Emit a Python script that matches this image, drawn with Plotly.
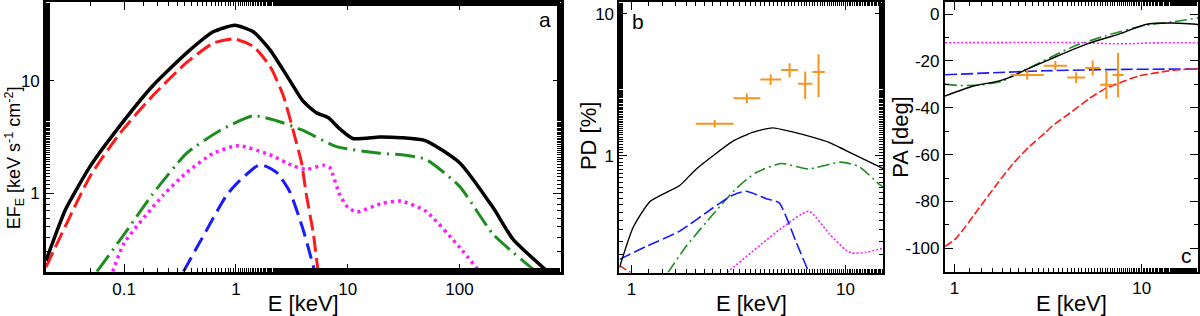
import plotly.graph_objects as go
import math

# ---------------- Panel a : spectra ----------------
a_tot_E = [0.02, 0.03, 0.05, 0.092, 0.183, 0.363, 0.628, 0.98, 1.43, 2.01, 2.84, 3.99, 5.25, 6.67, 8.5, 11.1, 19.3, 30, 50, 100, 200, 300, 614]
a_tot_F = [0.25, 0.72, 1.75, 4.0, 9.2, 17.8, 27.4, 31.3, 27.4, 19.0, 11.2, 6.6, 5.2, 4.72, 3.74, 3.07, 3.17, 3.12, 2.93, 1.87, 0.74, 0.39, 0.2]

a_disk_E = [0.02, 0.05, 0.092, 0.183, 0.363, 0.628, 0.96, 1.43, 2.01, 2.64, 3.25, 3.86, 4.27, 4.9, 5.43]
a_disk_F = [0.22, 1.43, 3.43, 7.5, 14.6, 21.7, 23.7, 20.3, 13.6, 7.5, 3.62, 1.87, 0.96, 0.45, 0.2]

a_cor_E = [0.057, 0.1, 0.177, 0.363, 0.72, 1.43, 2.31, 3.99, 7.93, 19.3, 30, 50, 100, 200, 484]
a_cor_F = [0.2, 0.43, 0.96, 2.27, 3.62, 4.89, 4.42, 3.62, 2.6, 2.27, 2.2, 2.0, 1.15, 0.43, 0.2]

a_refl_E = [0.079, 0.1, 0.224, 0.363, 0.628, 1.05, 2.01, 3.25, 4.27, 6.03, 6.9, 8.5, 10, 12, 20, 30, 50, 100, 151]
a_refl_F = [0.2, 0.36, 0.96, 1.53, 2.27, 2.65, 2.2, 1.75, 1.63, 1.77, 1.69, 0.96, 0.75, 0.68, 0.81, 0.85, 0.69, 0.33, 0.2]

a_bb_E = [0.339, 0.5, 0.826, 1.086, 1.64, 2.31, 3.03, 4.0, 5.07]
a_bb_F = [0.2, 0.4, 0.96, 1.3, 1.8, 1.53, 1.03, 0.47, 0.2]

# ---------------- Panel b : polarization degree ----------------
b_tot_E = [0.88, 1.02, 1.22, 1.68, 2.0, 2.97, 3.68, 4.56, 5.65, 7.0, 8.38, 10, 15]
b_tot_PD = [0.163, 0.313, 0.474, 0.616, 0.8, 1.26, 1.46, 1.57, 1.47, 1.35, 1.24, 1.09, 0.81]

b_cor_E = [1.48, 1.8, 2.4, 3.08, 3.81, 5.0, 6.7, 9.5, 11.5, 14.3, 15]
b_cor_PD = [0.15, 0.229, 0.385, 0.585, 0.758, 0.88, 0.807, 0.90, 0.84, 0.633, 0.6]

b_bb_E = [0.88, 1.17, 1.68, 2.4, 2.97, 3.43, 4.24, 4.9, 5.45, 5.83, 6.75]
b_bb_PD = [0.186, 0.229, 0.294, 0.428, 0.527, 0.561, 0.5, 0.465, 0.33, 0.254, 0.15]

b_refl_E = [2.8, 4.9, 6.74, 8.38, 10, 10.7, 12.4, 15]
b_refl_PD = [0.15, 0.3, 0.406, 0.282, 0.217, 0.206, 0.208, 0.223]

b_disk_E = [0.88, 0.99]
b_disk_PD = [0.168, 0.15]

# ---------------- Panel c : polarization angle ----------------
c_tot_E = [0.89, 1.25, 1.74, 1.96, 2.41, 3.48, 5.24, 7.57, 10.5, 14.6, 20]
c_tot_PA = [-35, -30.8, -28.5, -27.1, -23.7, -18.2, -12.4, -8.5, -4.4, -3.8, -4.4]

c_cor_E = [0.89, 1.06, 1.4, 1.81, 2.31, 4.27, 6.43, 10.5, 14.6, 20]
c_cor_PA = [-29.9, -30.5, -30.2, -28.5, -24.4, -14.0, -9.2, -4.7, -3.3, -1.6]

c_bb_E = [0.89, 3.0, 8.0, 20]
c_bb_PA = [-25.9, -24.2, -23.6, -23.4]

c_refl_E = [0.89, 5.0, 6.5, 9.0, 11.0, 20]
c_refl_PA = [-12.2, -12.2, -12.6, -12.6, -12.3, -12.2]

c_disk_E = [0.892, 1.02, 1.36, 1.67, 2.04, 2.51, 3.08, 3.34, 4.27, 5.24, 6.43, 7.88, 9.67, 14.6, 20]
c_disk_PA = [-99.2, -95.8, -82.7, -73.1, -64.2, -56.6, -50.4, -47.7, -41.5, -36.1, -31.7, -28.9, -26.4, -24.0, -23.3]

# ---------------- Observed data ----------------
obs_E = [2.45, 3.46, 4.47, 5.48, 6.48, 7.48]
obs_Elo = [2, 3, 4, 5, 6, 7]
obs_Ehi = [3, 4, 5, 6, 7, 8]
obs_PD = [1.68, 2.54, 3.44, 4.02, 3.21, 3.88]
obs_PD_err = [0.1, 0.2, 0.3, 0.45, 0.7, 1.3]
obs_PA = [-26.0, -22.0, -27.1, -23.0, -30.2, -26.0]
obs_PA_err = [2, 2, 2.3, 3.2, 6, 9.5]

# tick labels
a_xticks = [0.1, 1, 10, 100]
a_xtext = ["0.1", "1", "10", "100"]
a_yticks = [1, 10]
a_ytext = ["1", "10"]
b_xticks = [1, 10]
b_xtext = ["1", "10"]
b_yticks = [1, 10]
b_ytext = ["1", "10"]
c_xticks = [1, 10]
c_xtext = ["1", "10"]
c_yticks = [0, -20, -40, -60, -80, -100]
c_ytext = ["0", "-20", "-40", "-60", "-80", "-100"]

RED = "#FF1A1A"
GREEN = "#1E8C1E"
BLUE = "#1A1AFF"
MAG = "#FF1AFF"
ORANGE = "#F7941D"

fig = go.Figure()

def add(x, y, color, width, dash, xa, ya):
    fig.add_trace(go.Scatter(x=x, y=y, mode="lines", xaxis=xa, yaxis=ya,
                             line=dict(color=color, width=width, dash=dash, shape="spline", smoothing=0.55),
                             showlegend=False, hoverinfo="skip"))

# panel a
add(a_cor_E, a_cor_F, GREEN, 3, "20px,6px,2px,6px", "x", "y")
add(a_refl_E, a_refl_F, MAG, 3.5, "3px,4px", "x", "y")
add(a_bb_E, a_bb_F, BLUE, 3, "16px,7px", "x", "y")
add(a_disk_E, a_disk_F, RED, 3, "16px,6px", "x", "y")
add(a_tot_E, a_tot_F, "black", 3.5, "solid", "x", "y")

# panel b
add(b_cor_E, b_cor_PD, GREEN, 1.6, "12px,4px,2px,4px", "x2", "y2")
add(b_refl_E, b_refl_PD, MAG, 1.6, "2px,2px", "x2", "y2")
add(b_bb_E, b_bb_PD, BLUE, 1.6, "12px,4px", "x2", "y2")
add(b_disk_E, b_disk_PD, RED, 1.6, "8px,3px", "x2", "y2")
add(b_tot_E, b_tot_PD, "black", 1.4, "solid", "x2", "y2")

# panel c
add(c_cor_E, c_cor_PA, GREEN, 1.6, "12px,4px,2px,4px", "x3", "y3")
add(c_refl_E, c_refl_PA, MAG, 1.6, "2px,2px", "x3", "y3")
add(c_bb_E, c_bb_PA, BLUE, 1.6, "12px,4px", "x3", "y3")
add(c_disk_E, c_disk_PA, RED, 1.6, "8px,3px", "x3", "y3")
add(c_tot_E, c_tot_PA, "black", 1.4, "solid", "x3", "y3")

ex_plus = [h - c for h, c in zip(obs_Ehi, obs_E)]
ex_minus = [c - l for c, l in zip(obs_E, obs_Elo)]

for yv, ye, xa, ya in [(obs_PD, obs_PD_err, "x2", "y2"), (obs_PA, obs_PA_err, "x3", "y3")]:
    fig.add_trace(go.Scatter(x=obs_E, y=yv, mode="markers", xaxis=xa, yaxis=ya,
                             marker=dict(size=1, color=ORANGE),
                             error_x=dict(type="data", symmetric=False, array=ex_plus, arrayminus=ex_minus,
                                          color=ORANGE, thickness=2, width=0),
                             error_y=dict(type="data", array=ye, color=ORANGE, thickness=2, width=0),
                             showlegend=False, hoverinfo="skip"))

FONT = "Arial, Liberation Sans, sans-serif"
W, H = 1200, 316
ytop = 1 - 1.5 / H
ybot = 1 - 279.5 / H
lg = math.log10

def ax(domain, rng, typ, tickvals, ticktext, title, anchor, minor_dtick=None, lw=2):
    d = dict(domain=domain, range=rng, type=typ, showgrid=False, zeroline=False,
             showline=True, linecolor="black", linewidth=lw, mirror="ticks",
             ticks="inside", ticklen=8, tickwidth=1.2, tickcolor="black",
             tickvals=tickvals, ticktext=ticktext,
             tickfont=dict(family=FONT, size=17, color="black"),
             anchor=anchor)
    if title:
        d["title"] = dict(text=title, font=dict(family=FONT, size=22, color="black"), standoff=2)
    m = dict(ticks="inside", ticklen=4, tickwidth=1, tickcolor="black", showgrid=False)
    if minor_dtick is not None:
        m["dtick"] = minor_dtick
    d["minor"] = m
    return d

fig.update_layout(
    width=W, height=H, margin=dict(l=0, r=0, t=0, b=0),
    paper_bgcolor="white", plot_bgcolor="white",
    xaxis=ax([46 / W, 561 / W], [lg(0.02), lg(800)], "log", a_xticks, a_xtext, "E [keV]", "y", lw=2.5),
    yaxis=ax([ybot, ytop], [lg(0.2), lg(50)], "log", a_yticks, a_ytext, None, "x", lw=2.5),
    xaxis2=ax([620 / W, 884 / W], [lg(0.88), lg(15)], "log", b_xticks, b_xtext, "E [keV]", "y2"),
    yaxis2=ax([1 - 280.5 / H, ytop], [lg(0.15), lg(12)], "log", b_yticks, b_ytext, None, "x2"),
    xaxis3=ax([945.7 / W, 1199 / W], [lg(0.89), lg(20)], "log", c_xticks, c_xtext, "E [keV]", "y3"),
    yaxis3=ax([ybot, ytop], [-110, 5], "linear", c_yticks, c_ytext, None, "x3", minor_dtick=10),
)

def ytitle(text, xpx, ypx, size):
    fig.add_annotation(text=text, xref="paper", yref="paper", x=xpx / W, y=1 - ypx / H,
                       xanchor="center", yanchor="middle", textangle=-90, showarrow=False,
                       font=dict(family=FONT, size=size, color="black"))

ytitle("EF<sub>E</sub> [keV s<sup>-1</sup> cm<sup>-2</sup>]", 14.5, 162, 18)
ytitle("PD [%]", 589, 140, 22)
ytitle("PA [deg]", 901, 140, 22)

# panel letters
fig.add_annotation(text="a", xref="x domain", yref="y domain", x=0.985, y=0.985, xanchor="right", yanchor="top",
                   showarrow=False, font=dict(family=FONT, size=21, color="black"))
fig.add_annotation(text="b", xref="x2 domain", yref="y2 domain", x=0.04, y=0.98, xanchor="left", yanchor="top",
                   showarrow=False, font=dict(family=FONT, size=21, color="black"))
fig.add_annotation(text="c", xref="x3 domain", yref="y3 domain", x=0.985, y=0.01, xanchor="right", yanchor="bottom",
                   showarrow=False, font=dict(family=FONT, size=21, color="black"))

fig.write_html("out.html")
